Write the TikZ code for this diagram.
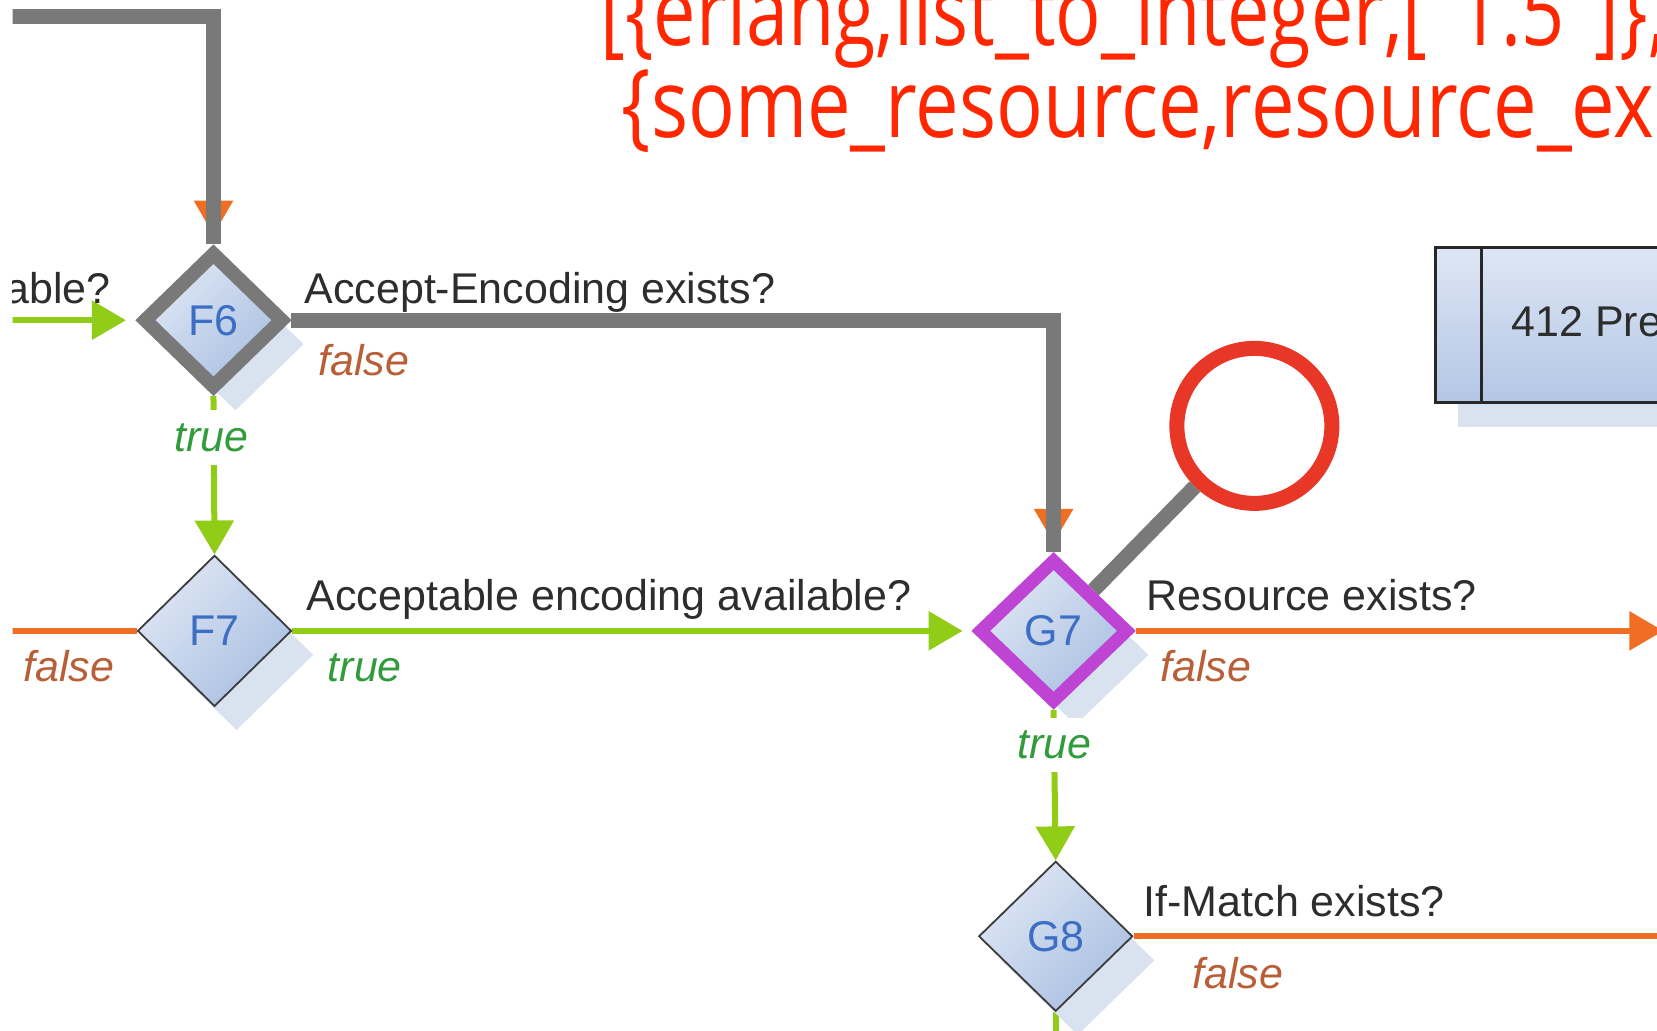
\documentclass[tikz,border=0pt]{standalone}
\usepackage{fontspec}
\setmainfont{Liberation Sans}
\newfontfamily\codefont{Open Sans}
\usetikzlibrary{shapes.geometric,arrows.meta,shadows}

\definecolor{wiregray}{RGB}{121,121,121}
\definecolor{yesgreen}{RGB}{145,205,22}
\definecolor{nored}{RGB}{240,110,35}
\definecolor{hilite}{RGB}{190,68,212}
\definecolor{ring}{RGB}{232,55,38}
\definecolor{codered}{RGB}{255,38,0}
\definecolor{labeltext}{RGB}{45,45,45}
\definecolor{truetext}{RGB}{50,155,60}
\definecolor{falsetext}{RGB}{185,95,55}
\definecolor{idblue}{RGB}{60,110,195}
\definecolor{fillA}{RGB}{222,230,244}
\definecolor{fillB}{RGB}{170,192,226}
\definecolor{shadowc}{RGB}{217,226,239}
\definecolor{diaedge}{RGB}{60,60,60}
\definecolor{boxedge}{RGB}{40,40,40}

\pgfdeclarelayer{wires}
\pgfsetlayers{wires,main}

\begin{document}
\begin{tikzpicture}[x=1.0568pt, y=-1.0568pt,
  lbl/.style={font=\fontsize{43}{43}\selectfont, text=labeltext, inner sep=0pt},
  truelbl/.style={font=\fontsize{43}{43}\selectfont\itshape, text=truetext, inner sep=0pt},
  falselbl/.style={font=\fontsize{43}{43}\selectfont\itshape, text=falsetext, inner sep=0pt},
  gaplbl/.style={fill=white, inner xsep=2pt, inner ysep=13pt},
  codeline/.style={font=\codefont\fontsize{95}{95}\selectfont, text=codered, inner sep=0pt},
  decision/.style={diamond, aspect=1, inner sep=0pt,
     minimum width=154pt, minimum height=151pt,
     top color=fillA, bottom color=fillB, shading angle=45,
     draw=diaedge, line width=1.8pt,
     font=\fontsize{43}{43}\selectfont, text=idblue,
     general shadow={fill=shadowc, draw=none, shadow xshift=22pt, shadow yshift=-24pt}},
  statebox/.style={rectangle, inner sep=0pt, draw=boxedge, line width=3pt,
     top color=fillA, bottom color=fillB!90!white,
     general shadow={fill=shadowc, draw=none, shadow xshift=22pt, shadow yshift=-24pt}},
  greyrun/.style={draw=wiregray, line width=15pt, line join=miter},
  yesline/.style={draw=yesgreen, line width=6pt},
  noline/.style={draw=nored, line width=6pt},
  arrowed/.style={-{Triangle[length=34pt,width=38pt]}},
]
\useasboundingbox (0,0) rectangle (1568,975);

% free ends of the connectors
\coordinate (topin) at (0,16);
\coordinate (e6in) at (0,303);
\coordinate (f6orange) at (202,150);
\coordinate (g7orange) at (997,440);
\coordinate (f7out) at (0,597);
\coordinate (g7out) at (1574,597);
\coordinate (g8out) at (1600,886);
\coordinate (g8down) at (999,1000);

\begin{scope}
\clip (12,0) rectangle (1568,975);

% decision diamonds
\node[decision, line width=14pt, draw=wiregray, minimum width=142pt, minimum height=138pt] (F6) at (202,303) {F6};
\node[decision] (F7) at (203,597) {F7};
\node[decision, line width=13pt, draw=hilite, minimum width=151pt, minimum height=145pt] (G7) at (997,597) {G7};
\node[decision, minimum width=154pt, minimum height=150pt] (G8) at (999,886) {G8};

% end marker
\node[circle, draw=ring, line width=15pt, minimum size=155pt, inner sep=0pt] (R) at (1187,403) {};

% status box
\node[statebox, anchor=north west, minimum width=600pt, minimum height=155pt] (B412) at (1357,233) {};
\draw[draw=boxedge, line width=3pt] ([xshift=47pt]B412.north west) -- ([xshift=47pt]B412.south west);
\node[lbl, anchor=base west] (t412) at (1430,318) {412 Precondition Failed};

% questions
\node[lbl, anchor=base east] (qE6) at (105,287) {able?};
\node[lbl, anchor=base west] (qF6) at (288,287) {Accept-Encoding exists?};
\node[lbl, anchor=base west] (qF7) at (290,578) {Acceptable encoding available?};
\node[lbl, anchor=base west] (qG7) at (1085,578) {Resource exists?};
\node[lbl, anchor=base west] (qG8) at (1082,867) {If-Match exists?};

% branch labels
\node[falselbl, anchor=base west] (fF6) at (301,355) {false};
\node[truelbl, gaplbl, anchor=base] (tF6) at (200,427) {true};
\node[falselbl, anchor=base west] (fF7) at (22,645) {false};
\node[truelbl, anchor=base west] (tF7) at (310,645) {true};
\node[falselbl, anchor=base west] (fG7) at (1098,645) {false};
\node[truelbl, gaplbl, anchor=base] (tG7) at (998,718) {true};
\node[falselbl, anchor=base west] (fG8) at (1128,935) {false};

% trace text
\node[codeline, anchor=base west] (code1) at (568,43) {\scalebox{0.795}[1]{[\{erlang,list\_to\_integer,[\hphantom{"}1.5\hphantom{"}]\},}};
\node[codeline, anchor=base west] (code2) at (588,130) {\scalebox{0.818}[1]{\{some\_resource,resource\_exists}};
\end{scope}

\begin{pgfonlayer}{wires}
\clip (12,0) rectangle (1568,975);
% orange arrows whose lines run under the grey trace
\draw[noline, arrowed, shorten >=9.5pt] (f6orange) -- (F6.north);
\draw[noline, arrowed, shorten >=9pt] (g7orange) -- (G7.north);
% grey trace
\draw[greyrun] (topin) -| (F6.north);
\draw[greyrun] (F6.east) -| (G7.north);
\draw[greyrun] (G7) -- (R);
% true branches
\draw[yesline, arrowed, shorten >=9.5pt] (e6in) -- (F6.west);
\draw[yesline, arrowed] (F6.south) -- (F7.north);
\draw[yesline, arrowed, shorten >=9pt] (F7.east) -- (G7.west);
\draw[yesline, arrowed] (G7.south) -- (G8.north);
\draw[yesline] (G8.south) -- (g8down);
% false branches
\draw[noline] (F7.west) -- (f7out);
\draw[noline, arrowed] (G7.east) -- (g7out);
\draw[noline] (G8.east) -- (g8out);
\end{pgfonlayer}
\end{tikzpicture}
\end{document}
